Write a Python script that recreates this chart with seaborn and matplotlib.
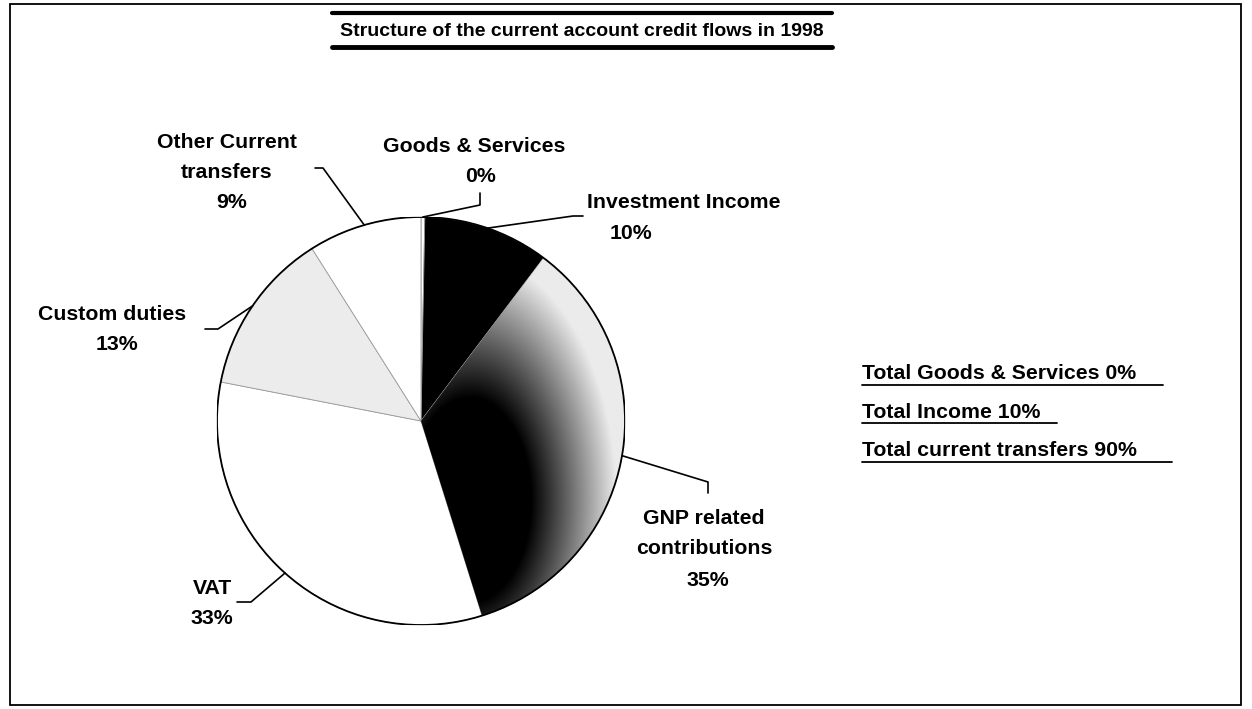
import numpy as np
import matplotlib
matplotlib.use("Agg")
import matplotlib.pyplot as plt
import seaborn as sns
from matplotlib.lines import Line2D
from matplotlib.patches import Rectangle

sns.set_theme(style="white")
plt.rcParams['font.family'] = ['Liberation Sans', 'DejaVu Sans']

# ---- data ----
categories = ["Goods & Services", "Investment Income", "GNP related contributions",
              "VAT", "Custom duties", "Other Current transfers"]
shares = [0.3, 10, 35, 33, 13, 9]
pct_labels = ["0%", "10%", "35%", "33%", "13%", "9%"]
slice_colors = ["#ffffff", "#000000", "#4a4a4a", "#ffffff", "#ececec", "#ffffff"]
title = "Structure of the current account credit flows in 1998"
totals = ["Total Goods & Services 0%", "Total Income 10%", "Total current transfers 90%"]

W, H = 1252, 709
fig = plt.figure(figsize=(W / 100, H / 100), dpi=100)
fig.patch.set_facecolor("white")

# pie axes placed by pixel geometry
cx, cy, R = 421, 421, 204
ax = fig.add_axes([(cx - R) / W, (H - cy - R) / H, 2 * R / W, 2 * R / H])

def px(x, y):
    return ((x - cx) / R, (cy - y) / R)

wedges, _ = ax.pie(shares, colors=slice_colors, startangle=90, counterclock=False,
                   radius=1.0, wedgeprops=dict(edgecolor="#9a9a9a", linewidth=0.6))
ax.set_xlim(-1, 1)
ax.set_ylim(-1, 1)
ax.set_aspect("equal")
ax.axis("off")

# gradient fill for the GNP wedge (dark core, lighter rim)
gx, gy = np.meshgrid(np.linspace(-1, 1, 500), np.linspace(1, -1, 500))
ccx, ccy = px(470, 500)
d = np.hypot(gx - ccx, 0.6 * (gy - ccy))
val = np.clip((d - 0.3) / 0.42, 0, 1) * 0.92
img = ax.imshow(val, cmap="gray", vmin=0, vmax=1, extent=[-1, 1, -1, 1], zorder=2)
img.set_clip_path(wedges[2])

# outer outline
circ = plt.Circle((0, 0), 1.0, fill=False, edgecolor="black", linewidth=1.3, zorder=3)
ax.add_patch(circ)
for w in wedges:
    w.set_zorder(1)

# leader lines: wedge mid-edge -> elbow -> end
elbows = [((480, 205), (480, 193)),
          ((573, 216), (583, 216)),
          ((708, 482), (708, 493)),
          ((251, 602), (237, 602)),
          ((218, 329), (205, 329)),
          ((323, 168), (315, 168))]
for w, (el, en) in zip(wedges, elbows):
    th = np.deg2rad((w.theta1 + w.theta2) / 2)
    sx, sy = np.cos(th), np.sin(th)
    ex, ey = px(*el)
    nx, ny = px(*en)
    ax.plot([sx, ex, nx], [sy, ey, ny], color="black", lw=1.2, clip_on=False, zorder=4)

fs = 15.3
def ftext(x, y, s, ha="center", **kw):
    fig.text(x / W, 1 - y / H, s, ha=ha, va="center", fontsize=fs,
             fontweight="bold", color="black", **kw)

# slice labels
ftext(474, 147, categories[0])
ftext(481, 176, pct_labels[0])
ftext(587, 203, categories[1], ha="left")
ftext(631, 234, pct_labels[1])
ftext(704, 518, "GNP related")
ftext(704, 548, "contributions")
ftext(708, 580, pct_labels[2])
ftext(212, 589, categories[3])
ftext(212, 619, pct_labels[3])
ftext(112, 315, categories[4])
ftext(117, 344, pct_labels[4])
ftext(227, 142, "Other Current")
ftext(227, 172, "transfers")
ftext(232, 202, pct_labels[5])

# title with thick rules
fig.text(582 / W, 1 - 32 / H, title, ha="center", va="center", fontsize=14,
         fontweight="bold", color="black")
fig.add_artist(Line2D([332 / W, 832 / W], [1 - 13 / H, 1 - 13 / H], color="black", lw=3))
fig.add_artist(Line2D([332 / W, 832 / W], [1 - 47 / H, 1 - 47 / H], color="black", lw=3.5))

# totals (underlined)
ends = [1163, 1057, 1172]
for i, t in enumerate(totals):
    y = 374 + i * 38.5
    fig.text(862 / W, 1 - y / H, t, ha="left", va="center", fontsize=15.3,
             fontweight="bold", color="black")
    fig.add_artist(Line2D([862 / W, ends[i] / W], [1 - (y + 11) / H] * 2,
                          color="black", lw=1.3))

# outer frame
fig.add_artist(Rectangle((10 / W, 4 / H), 1231 / W, 701 / H, transform=fig.transFigure,
                         fill=False, edgecolor="black", lw=1.3))

fig.savefig("out.png", dpi=100, facecolor="white")
